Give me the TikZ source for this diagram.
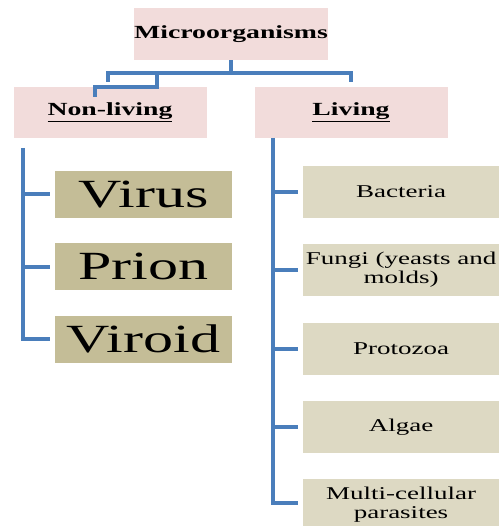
\documentclass[tikz,border=0pt]{standalone}
\usepackage{fontspec}
\setmainfont{Liberation Serif}
\usepackage{graphicx}
\usepackage{tikz}
\usetikzlibrary{calc,positioning}
\definecolor{linkblue}{RGB}{74,126,187}
\definecolor{rosebox}{RGB}{242,220,219}
\definecolor{tanbox}{RGB}{196,189,151}
\definecolor{sandbox}{RGB}{221,217,195}
\newcommand{\wide}[1]{\scalebox{1.5}[1]{#1}}

\begin{document}
\begin{tikzpicture}[x=1pt,y=-1pt]
      \tikzstyle{every node}=[inner sep=0pt,text=black]
      \tikzstyle{head}=[fill=rosebox,minimum width=193pt,minimum height=51pt,font=\fontsize{18.5}{20}\selectfont\bfseries]
      \tikzstyle{bigbox}=[fill=tanbox,minimum width=177pt,minimum height=47pt,font=\fontsize{40}{44}\selectfont]
      \tikzstyle{smallbox}=[fill=sandbox,minimum width=196pt,minimum height=52pt,font=\fontsize{18}{19}\selectfont]
      \tikzstyle{link}=[draw=linkblue,line width=4pt]
      \tikzstyle{tick}=[link,shorten >=5pt]
      \useasboundingbox (0,0) rectangle (500,526);
      \node[head,minimum width=192pt,minimum height=52pt] (micro) at (231,34) {\wide{Microorganisms}};
      \node[head] (nonliving) at (110,112.5) {\wide{\underline{Non-living}}};
      \node[head] (living) at (351,112.5) {\wide{\underline{Living}}};
      \node[bigbox] (virus) at (143.5,194.5) {\wide{Virus}};
      \node[bigbox] (prion) at (143.5,266.5) {\wide{Prion}};
      \node[bigbox] (viroid) at (143.5,339) {\wide{Viroid}};
      \node[smallbox] (bacteria) at (401,192) {\wide{Bacteria}};
      \node[smallbox] (fungi) at (401,270) {\wide{\begin{tabular}{@{}c@{}}Fungi (yeasts and\\molds)\end{tabular}}};
      \node[smallbox] (protozoa) at (401,348.5) {\wide{Protozoa}};
      \node[smallbox] (algae) at (401,427) {\wide{Algae}};
      \node[smallbox] (parasites) at (401,505) {\wide{\begin{tabular}{@{}c@{}}Multi-cellular\\parasites\end{tabular}}};
      \coordinate (hub) at ($(micro.south)+(0,13)$);
      \draw[link] (micro.south) -- (hub);
      \draw[link] (hub) -| ([xshift=-2pt,yshift=5pt]nonliving.north);
      \draw[link] (hub) -| ([yshift=5pt]living.north);
      \draw[link] (hub -| 157,0) |- (95,87) -- (95,97);
      \coordinate (ltop) at (23,148);
      \draw[tick] (ltop) |- (viroid.west);
      \draw[tick] (ltop |- virus.west) -- (virus.west);
      \draw[tick] (ltop |- prion.west) -- (prion.west);
      \coordinate (rtop) at (273,138);
      \draw[tick] (rtop) |- ([yshift=2pt]parasites.west);
      \foreach \n in {bacteria,fungi,protozoa,algae}
        \draw[tick] (rtop |- \n.west) -- (\n.west);
\end{tikzpicture}
\end{document}
